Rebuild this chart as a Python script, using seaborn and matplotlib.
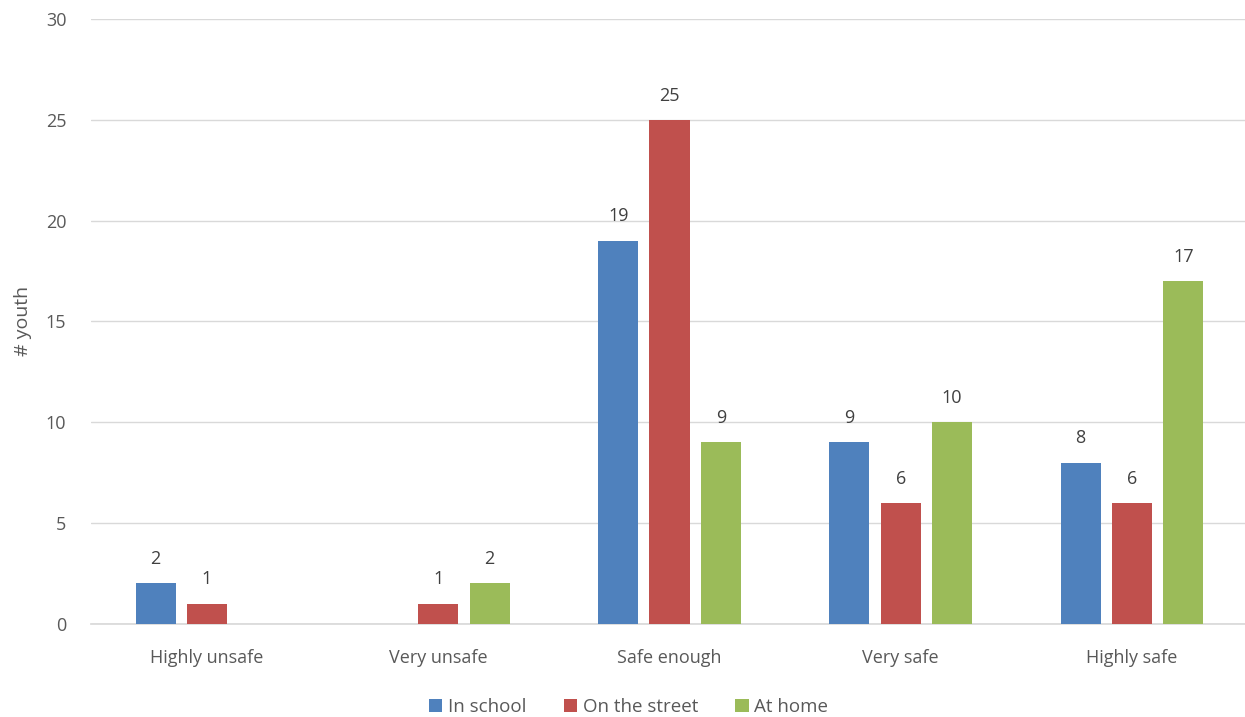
import pandas as pd
import matplotlib
matplotlib.use("Agg")
import matplotlib.pyplot as plt
import seaborn as sns

# Data
categories = ["Highly unsafe", "Very unsafe", "Safe enough", "Very safe", "Highly safe"]
series_names = ["In school", "On the street", "At home"]
in_school = [2, 0, 19, 9, 8]
on_street = [1, 1, 25, 6, 6]
at_home = [0, 2, 9, 10, 17]
colors = ["#4F81BD", "#C0504D", "#9BBB59"]

# Long-form table for seaborn
rows = []
for name, vals in zip(series_names, [in_school, on_street, at_home]):
    for cat, v in zip(categories, vals):
        rows.append({"category": cat, "series": name, "value": v})
df = pd.DataFrame(rows)

sns.set_theme(style="white")
plt.rcParams['font.family'] = ['Open Sans', 'DejaVu Sans']
text_color = "#595959"

fig = plt.figure(figsize=(12.45, 7.17), dpi=100)
ax = fig.add_axes([0.0734, 0.13, 0.9287, 0.8435])

sns.barplot(data=df, x="category", y="value", hue="series", order=categories,
            hue_order=series_names, palette=colors, width=0.666, gap=0.22,
            saturation=1, linewidth=0, ax=ax, zorder=3)

# Value labels, skip zeros
for container in ax.containers:
    labels = [f"{int(b.get_height())}" if b.get_height() > 0 else "" for b in container]
    ax.bar_label(container, labels=labels, padding=11, fontsize=13, color="#404040")

ax.set_ylim(0, 30)
ax.set_yticks(range(0, 31, 5))
ax.set_xlim(-0.5, 4.5)
ax.yaxis.grid(True, color="#D9D9D9", linewidth=1, zorder=0)
ax.set_axisbelow(True)
for s in ["top", "right", "left"]:
    ax.spines[s].set_visible(False)
ax.spines["bottom"].set_color("#D9D9D9")
ax.tick_params(axis="x", length=0, labelsize=13, colors=text_color, pad=18)
ax.tick_params(axis="y", length=0, labelsize=13, colors=text_color, pad=18)
ax.set_xlabel("")
ax.set_ylabel("# youth", fontsize=14, color=text_color, labelpad=10)

ax.legend(loc="center", bbox_to_anchor=(0.505, 0.014), bbox_transform=fig.transFigure,
          ncol=3, frameon=False, fontsize=13.5, handlelength=0.7, handleheight=0.7,
          handletextpad=0.3, columnspacing=2.0, labelcolor=text_color)

fig.savefig("out.png", dpi=100)
